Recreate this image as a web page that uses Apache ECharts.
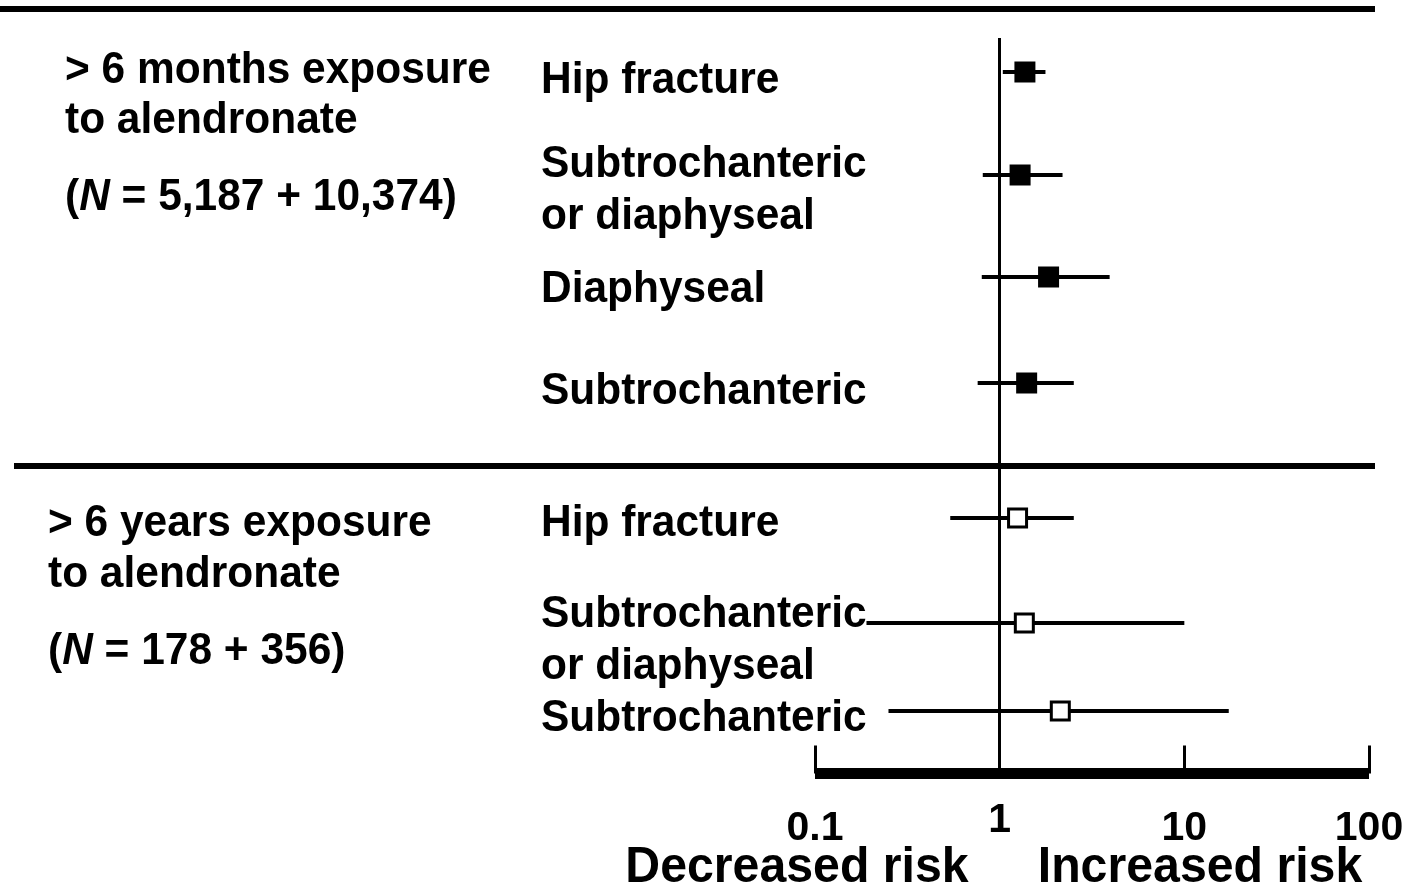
<!DOCTYPE html>
<html>
<head>
<meta charset="utf-8">
<title>Alendronate exposure and fracture risk</title>
<script src="https://cdn.jsdelivr.net/npm/echarts@6/dist/echarts.min.js"></script>
<style>
  html, body { margin: 0; padding: 0; background: #fff; }
  #chart { width: 1411px; height: 892px; }
</style>
</head>
<body>
<div id="chart"></div>
<script>
// ---- data ----
const outcomes = [
  'Hip fracture', 'Subtrochanteric\nor diaphyseal', 'Diaphyseal', 'Subtrochanteric',
  'Hip fracture', 'Subtrochanteric\nor diaphyseal', 'Subtrochanteric'
];
const exposureGroup = [0, 0, 0, 0, 1, 1, 1];   // 0 = > 6 months (filled), 1 = > 6 years (open)
const estimate = [1.37, 1.29, 1.84, 1.40, 1.25, 1.36, 2.13];
const lower    = [1.04, 0.81, 0.80, 0.76, 0.54, 0.19, 0.25];
const upper    = [1.77, 2.19, 3.94, 2.52, 2.52, 10.0, 17.4];
const xTickLabels = ['0.1', '1', '10', '100'];
const groupTitles = [
  ['> 6 months exposure', 'to alendronate', '({i|N} = 5,187 + 10,374)'],
  ['> 6 years exposure', 'to alendronate', '({i|N} = 178 + 356)']
];
const riskLabels = ['Decreased risk', 'Increased risk'];

// ---- layout ----
const rowSlot = [0.34, 1.37, 2.39, 3.45, 4.80, 5.85, 6.73];   // vertical slot of each row
const labelY = [81, 191, 290, 392, 524, 641, 719];
const FONT = "'Liberation Sans', Arial, Helvetica, sans-serif";
const SX = 0.965;

const chart = echarts.init(document.getElementById('chart'));

const rows = outcomes.map((name, i) => [estimate[i], lower[i], upper[i], rowSlot[i], exposureGroup[i]]);

function textEl(x, y, text, size, align, extra) {
  return {
    type: 'text', x: x, y: y, scaleX: SX, silent: true,
    style: Object.assign({
      text: text, fill: '#000', font: 'bold ' + size + 'px ' + FONT,
      textAlign: align || 'left', textVerticalAlign: 'middle'
    }, extra || {})
  };
}

const graphics = [
  { type: 'line', shape: { x1: 0, y1: 9, x2: 1375, y2: 9 }, style: { stroke: '#000', lineWidth: 6 }, silent: true },
  { type: 'line', shape: { x1: 14, y1: 466, x2: 1375, y2: 466 }, style: { stroke: '#000', lineWidth: 6 }, silent: true }
];
const titleX = [65, 48];
const titleY = [[71, 121, 198], [524, 575, 652]];
groupTitles.forEach((lines, g) => {
  lines.forEach((t, k) => {
    graphics.push(textEl(titleX[g], titleY[g][k], t, 44, 'left', {
      rich: { i: { fontStyle: 'italic', fontWeight: 'bold', fontSize: 44, fontFamily: FONT, fill: '#000' } }
    }));
  });
});
outcomes.forEach((t, i) => {
  graphics.push(textEl(541, labelY[i], t, 44, 'left', { lineHeight: 52 }));
});
graphics.push(textEl(797, 868, riskLabels[0], 50, 'center'));
graphics.push(textEl(1200, 868, riskLabels[1], 50, 'center'));

chart.setOption({
  backgroundColor: '#fff',
  animation: false,
  grid: { left: 815, right: 42, top: 38, bottom: 118.5 },
  xAxis: {
    type: 'log', logBase: 10, min: 0.1, max: 100,
    position: 'bottom',
    splitLine: { show: false },
    axisLine: { onZero: false, lineStyle: { color: '#000', width: 11, cap: 'butt' } },
    axisTick: { inside: true, length: 28, lineStyle: { color: '#000', width: 3 } },
    minorTick: { show: false },
    axisLabel: {
      margin: 35, color: '#000',
      formatter: function (v) {
        const idx = Math.round(Math.log10(v)) + 1;
        const s = xTickLabels[idx];
        return s === '1' ? '{hi|' + s + '}' : '{n|' + s + '}';
      },
      rich: {
        n: { fontSize: 41, fontWeight: 'bold', fontFamily: FONT, color: '#000', lineHeight: 40 },
        hi: { fontSize: 41, fontWeight: 'bold', fontFamily: FONT, color: '#000', lineHeight: 24 }
      }
    }
  },
  yAxis: { type: 'value', inverse: true, min: 0, max: 7.355, show: false },
  series: [{
    type: 'custom',
    data: rows,
    renderItem: function (params, api) {
      const y = api.value(3);
      const pe = api.coord([api.value(0), y]);
      const pl = api.coord([api.value(1), y]);
      const pu = api.coord([api.value(2), y]);
      const open = api.value(4) === 1;
      const s = open ? 18 : 21;
      return {
        type: 'group',
        children: [
          { type: 'line', shape: { x1: pl[0], y1: pl[1], x2: pu[0], y2: pu[1] }, style: { stroke: '#000', lineWidth: 4 } },
          { type: 'rect', shape: { x: pe[0] - s / 2, y: pe[1] - s / 2, width: s, height: s },
            style: { fill: open ? '#fff' : '#000', stroke: '#000', lineWidth: open ? 3 : 0 } }
        ]
      };
    },
    markLine: {
      silent: true, symbol: 'none', label: { show: false },
      lineStyle: { color: '#000', width: 3, type: 'solid' },
      data: [{ xAxis: 1 }]
    },
    z: 3
  }],
  graphic: graphics
});
</script>
</body>
</html>
